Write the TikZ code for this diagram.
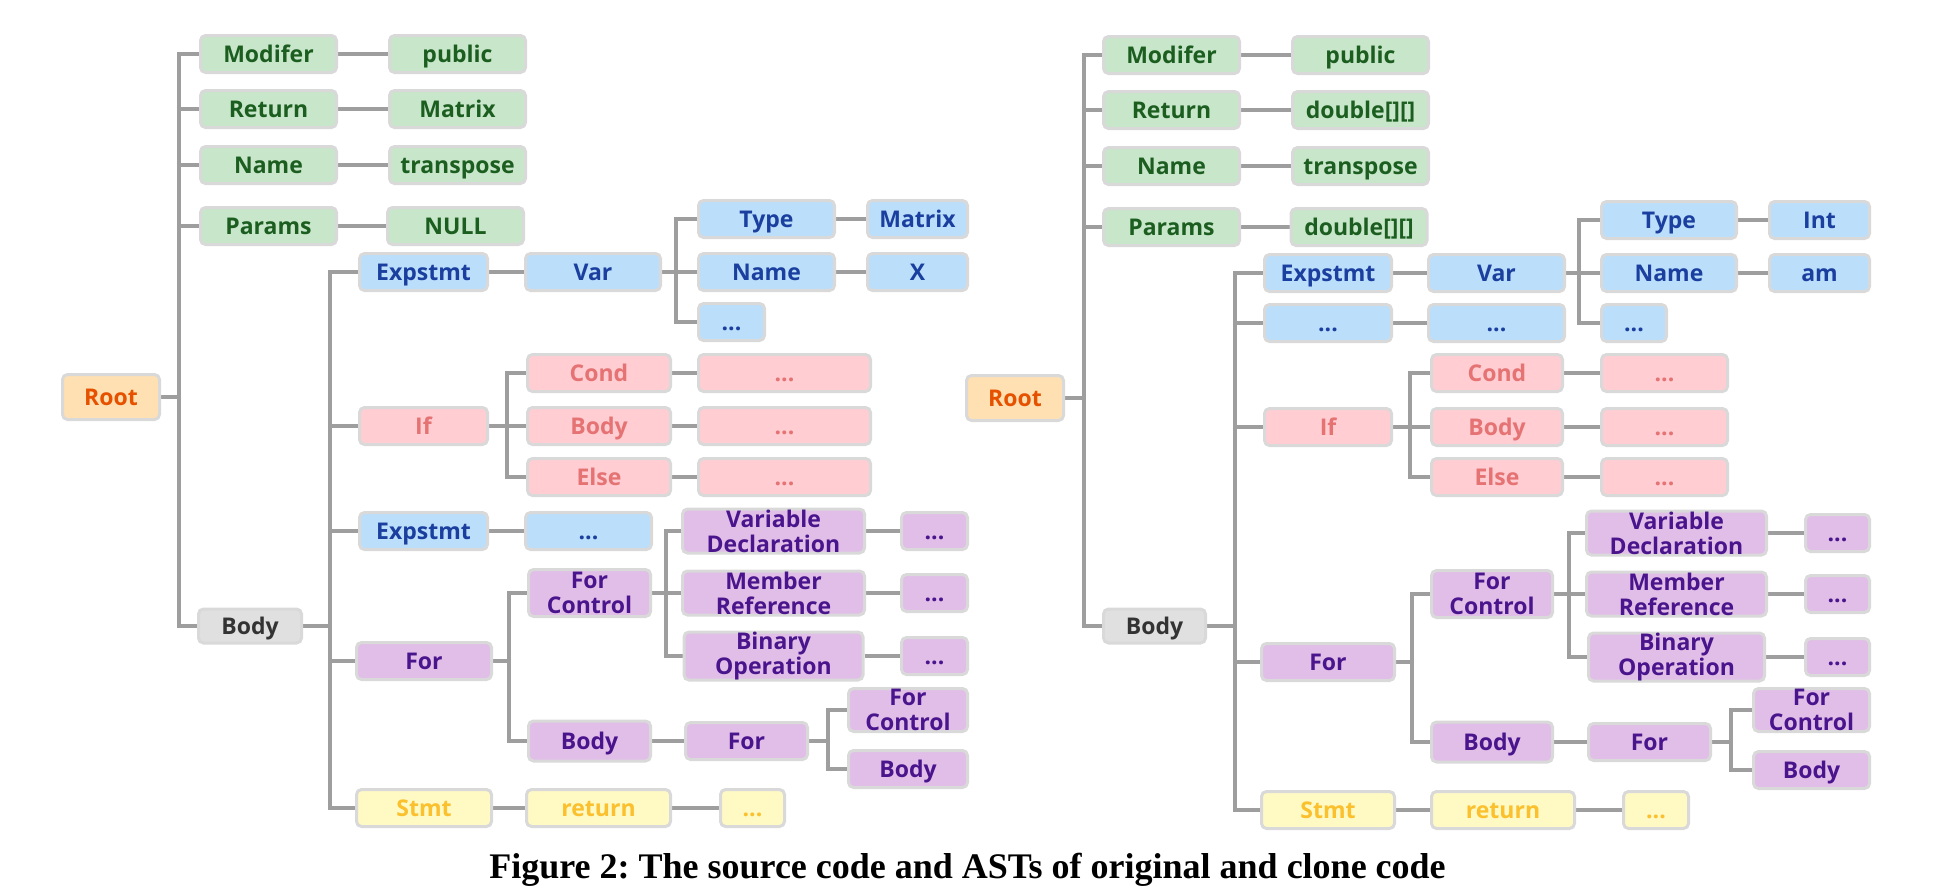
\documentclass[tikz,border=0pt]{standalone}
\usepackage{fontspec}
\usetikzlibrary{backgrounds}
\newfontfamily\nodefont{Open Sans}
\newfontfamily\captfont{Liberation Serif}
\definecolor{bordergray}{HTML}{D9D9D9}
\definecolor{edgegray}{HTML}{9E9E9E}
\definecolor{gFill}{HTML}{C8E6C9}\definecolor{gText}{HTML}{1B5E20}
\definecolor{bFill}{HTML}{BBDEFB}\definecolor{bText}{HTML}{1A3F9F}
\definecolor{pFill}{HTML}{FFCDD2}\definecolor{pText}{HTML}{E57373}
\definecolor{uFill}{HTML}{E1BEE7}\definecolor{uText}{HTML}{4A148C}
\definecolor{yFill}{HTML}{FFF9C4}\definecolor{yText}{HTML}{FBC02D}
\definecolor{oFill}{HTML}{FFE0B2}\definecolor{oText}{HTML}{E65100}
\definecolor{kFill}{HTML}{E0E0E0}\definecolor{kText}{HTML}{333333}
\tikzset{
  astbase/.style={draw=bordergray, line width=3, rounded corners=5,
    minimum height=37, inner xsep=2, inner ysep=0, align=center,
    font=\nodefont\bfseries\fontsize{23}{25}\selectfont},
  astbox/.style={astbase, text height=16.4pt, text depth=0pt},
  cgreen/.style={fill=gFill, text=gText},
  cblue/.style={fill=bFill, text=bText},
  cpink/.style={fill=pFill, text=pText},
  cpurple/.style={fill=uFill, text=uText},
  ngreen/.style={astbox, cgreen},
  nblue/.style={astbox, cblue},
  npink/.style={astbox, cpink},
  npurple/.style={astbox, cpurple},
  npurpletwo/.style={astbase, cpurple},
  nyellow/.style={astbox, fill=yFill, text=yText},
  nroot/.style={astbox, fill=oFill, text=oText},
  ngray/.style={astbox, fill=kFill, text=kText},
  edge/.style={draw=edgegray, line width=4},
}
\newcommand\tedge[3]{\foreach \c in {#3}{\draw[edge] (#1.east) -- ++(#2,0) |- (\c.west);}}
\frenchspacing
\begin{document}
\begin{tikzpicture}[x=1pt,y=-1pt]
\useasboundingbox (0,0) rectangle (1942,892);

% ---------------- left tree ----------------
\node[nroot, minimum width=97, minimum height=45] (root) at (111,397) {Root};
\node[ngreen, minimum width=136] (mod) at (268.5,54) {Modifer};
\node[ngreen, minimum width=136] (pub) at (457.5,54) {public};
\node[ngreen, minimum width=136] (ret) at (268.5,109) {Return};
\node[ngreen, minimum width=136] (mat) at (457.5,109) {Matrix};
\node[ngreen, minimum width=136] (nam) at (268.5,165) {Name};
\node[ngreen, minimum width=136] (tra) at (457.5,165) {transpose};
\node[ngreen, minimum width=136] (par) at (268.5,226) {Params};
\node[ngreen, minimum width=136] (nul) at (455.5,226) {NULL};
\node[ngray, minimum width=103, minimum height=34] (bodyg) at (250,626) {Body};
\node[nblue, minimum width=128] (exa) at (423.5,272) {Expstmt};
\node[nblue, minimum width=135] (var) at (593,272) {Var};
\node[nblue, minimum width=136] (typ) at (766.5,219) {Type};
\node[nblue, minimum width=100] (mtx) at (917.5,219) {Matrix};
\node[nblue, minimum width=136] (vnm) at (766.5,272) {Name};
\node[nblue, minimum width=100] (vx) at (917.5,272) {X};
\node[nblue, minimum width=66] (vdt) at (731.5,322) {...};
\node[npink, minimum width=128] (ifn) at (423.5,426) {If};
\node[npink, minimum width=143] (cnd) at (599,373) {Cond};
\node[npink, minimum width=172] (cndd) at (784.5,373) {...};
\node[npink, minimum width=143] (ibd) at (599,426) {Body};
\node[npink, minimum width=172] (ibdd) at (784.5,426) {...};
\node[npink, minimum width=143] (els) at (599,477) {Else};
\node[npink, minimum width=172] (elsd) at (784.5,477) {...};
\node[nblue, minimum width=128] (exb) at (423.5,531) {Expstmt};
\node[nblue, minimum width=126] (exbd) at (588.5,531) {...};
\node[npurple, minimum width=135] (forn) at (424,661) {For};
\node[npurpletwo, minimum width=122, minimum height=47] (fc) at (589.5,593) {For\\Control};
\node[npurpletwo, minimum width=182, minimum height=44] (vd) at (773.5,531) {Variable\\Declaration};
\node[npurple, minimum width=66] (vdd) at (934.5,531) {...};
\node[npurpletwo, minimum width=182, minimum height=44] (mr) at (773.5,593) {Member\\Reference};
\node[npurple, minimum width=66] (mrd) at (934.5,593) {...};
\node[npurpletwo, minimum width=179, minimum height=44] (bo) at (773.5,656) {Binary\\Operation};
\node[npurple, minimum width=66] (bod) at (934.5,656) {...};
\node[npurple, minimum width=122, minimum height=40] (fb) at (589.5,741) {Body};
\node[npurple, minimum width=122] (ff) at (746.5,741) {For};
\node[npurpletwo, minimum width=119, minimum height=43] (ffc) at (908,710) {For\\Control};
\node[npurple, minimum width=119] (ffb) at (908,769) {Body};
\node[nyellow, minimum width=135] (st) at (424,808) {Stmt};
\node[nyellow, minimum width=144] (rtn) at (598.5,808) {return};
\node[nyellow, minimum width=64] (std) at (752.5,808) {...};

% ---------------- right tree ----------------
\node[nroot, minimum width=97, minimum height=45] (Rroot) at (1015,398) {Root};
\node[ngreen, minimum width=136] (Rmod) at (1171.5,55) {Modifer};
\node[ngreen, minimum width=136] (Rpub) at (1360.5,55) {public};
\node[ngreen, minimum width=136] (Rret) at (1171.5,110) {Return};
\node[ngreen, minimum width=136] (Rrt) at (1360.5,110) {double[][]};
\node[ngreen, minimum width=136] (Rnam) at (1171.5,166) {Name};
\node[ngreen, minimum width=136] (Rtra) at (1360.5,166) {transpose};
\node[ngreen, minimum width=136] (Rpar) at (1171.5,227) {Params};
\node[ngreen, minimum width=136] (Rpt) at (1359,227) {double[][]};
\node[ngray, minimum width=102, minimum height=34] (Rbodyg) at (1154.5,626) {Body};
\node[nblue, minimum width=127] (Rexa) at (1328,273) {Expstmt};
\node[nblue, minimum width=136] (Rvar) at (1496.5,273) {Var};
\node[nblue, minimum width=135] (Rtyp) at (1669,220) {Type};
\node[nblue, minimum width=100] (Rint) at (1819.5,220) {Int};
\node[nblue, minimum width=135] (Rvnm) at (1669,273) {Name};
\node[nblue, minimum width=100] (Ram) at (1819.5,273) {am};
\node[nblue, minimum width=65] (Rvdt) at (1634,323) {...};
\node[nblue, minimum width=127] (Rdot1) at (1328,323) {...};
\node[nblue, minimum width=136] (Rdot2) at (1496.5,323) {...};
\node[npink, minimum width=127] (Rif) at (1328,427) {If};
\node[npink, minimum width=131] (Rcnd) at (1497,373) {Cond};
\node[npink, minimum width=126] (Rcndd) at (1664.5,373) {...};
\node[npink, minimum width=131] (Ribd) at (1497,427) {Body};
\node[npink, minimum width=126] (Ribdd) at (1664.5,427) {...};
\node[npink, minimum width=131] (Rels) at (1497,477) {Else};
\node[npink, minimum width=126] (Relsd) at (1664.5,477) {...};
\node[npurple, minimum width=133] (Rfor) at (1328,662) {For};
\node[npurpletwo, minimum width=121, minimum height=47] (Rfc) at (1492,594) {For\\Control};
\node[npurpletwo, minimum width=180, minimum height=44] (Rvd) at (1676.5,533) {Variable\\Declaration};
\node[npurple, minimum width=64] (Rvdd) at (1837.5,533) {...};
\node[npurpletwo, minimum width=180, minimum height=44] (Rmr) at (1676.5,594) {Member\\Reference};
\node[npurple, minimum width=64] (Rmrd) at (1837.5,594) {...};
\node[npurpletwo, minimum width=176, minimum height=44] (Rbo) at (1676.5,657) {Binary\\Operation};
\node[npurple, minimum width=64] (Rbod) at (1837.5,657) {...};
\node[npurple, minimum width=121, minimum height=40] (Rfb) at (1492,742) {Body};
\node[npurple, minimum width=122] (Rff) at (1649.5,742) {For};
\node[npurpletwo, minimum width=116, minimum height=43] (Rffc) at (1811.5,710) {For\\Control};
\node[npurple, minimum width=116] (Rffb) at (1811.5,770) {Body};
\node[nyellow, minimum width=133] (Rst) at (1328,810) {Stmt};
\node[nyellow, minimum width=143] (Rrtn) at (1503,810) {return};
\node[nyellow, minimum width=65] (Rstd) at (1656,810) {...};

% ---------------- caption ----------------
\node[anchor=base, inner sep=0, font=\captfont\bfseries\fontsize{36}{40}\selectfont] (cap) at (967.5,878) {Figure 2: The source code and ASTs of original and clone code};

% ---------------- edges ----------------
\begin{scope}[on background layer]
\tedge{root}{18}{mod,ret,nam,par,bodyg}
\tedge{mod}{20}{pub}\tedge{ret}{20}{mat}\tedge{nam}{20}{tra}\tedge{par}{20}{nul}
\tedge{bodyg}{27}{exa,ifn,exb,forn,st}
\tedge{exa}{15}{var}
\tedge{var}{14}{typ,vnm,vdt}
\tedge{typ}{15}{mtx}\tedge{vnm}{15}{vx}
\tedge{ifn}{18}{cnd,ibd,els}
\tedge{cnd}{12}{cndd}\tedge{ibd}{12}{ibdd}\tedge{els}{12}{elsd}
\tedge{exb}{15}{exbd}
\tedge{forn}{16}{fc,fb}
\tedge{fc}{14}{vd,mr,bo}
\tedge{vd}{15}{vdd}\tedge{mr}{15}{mrd}\tedge{bo}{15}{bod}
\tedge{fb}{15}{ff}
\tedge{ff}{19}{ffc,ffb}
\tedge{st}{15}{rtn}\tedge{rtn}{20}{std}
\tedge{Rroot}{19}{Rmod,Rret,Rnam,Rpar,Rbodyg}
\tedge{Rmod}{20}{Rpub}\tedge{Rret}{20}{Rrt}\tedge{Rnam}{20}{Rtra}\tedge{Rpar}{20}{Rpt}
\tedge{Rbodyg}{28}{Rexa,Rdot1,Rif,Rfor,Rst}
\tedge{Rexa}{15}{Rvar}\tedge{Rdot1}{15}{Rdot2}
\tedge{Rvar}{13}{Rtyp,Rvnm,Rvdt}
\tedge{Rtyp}{15}{Rint}\tedge{Rvnm}{15}{Ram}
\tedge{Rif}{17}{Rcnd,Ribd,Rels}
\tedge{Rcnd}{15}{Rcndd}\tedge{Ribd}{15}{Ribdd}\tedge{Rels}{15}{Relsd}
\tedge{Rfor}{16}{Rfc,Rfb}
\tedge{Rfc}{15}{Rvd,Rmr,Rbo}
\tedge{Rvd}{15}{Rvdd}\tedge{Rmr}{15}{Rmrd}\tedge{Rbo}{15}{Rbod}
\tedge{Rfb}{15}{Rff}
\tedge{Rff}{19}{Rffc,Rffb}
\tedge{Rst}{15}{Rrtn}\tedge{Rrtn}{20}{Rstd}
\end{scope}
\end{tikzpicture}
\end{document}
